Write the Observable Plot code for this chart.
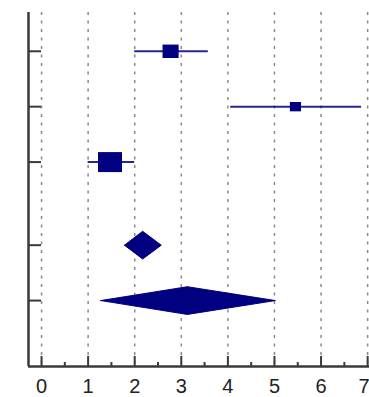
<!DOCTYPE html>
<html>
<head>
<meta charset="utf-8">
<script src="https://cdn.jsdelivr.net/npm/d3@7"></script>
<script src="https://cdn.jsdelivr.net/npm/@observablehq/plot@0.6"></script>
<style>
  html, body { margin: 0; padding: 0; background: #fff; }
  #chart svg { display: block; }
</style>
</head>
<body>
<div id="chart"></div>
<script>
// Study rows (y positions on the forest plot), estimates and confidence limits
const studyRows = [1, 2, 3];
const studyEst  = [2.77, 5.45, 1.47];
const studyLo   = [2.0, 4.06, 1.0];
const studyHi   = [3.58, 6.87, 2.0];
const studyWeight = [27, 13, 60];

// Pooled (diamond) rows
const poolRows = [4.5, 5.5];
const poolEst  = [2.17, 3.13];
const poolLo   = [1.78, 1.27];
const poolHi   = [2.57, 5.02];

// Axis ticks
const xTicks = [0, 1, 2, 3, 4, 5, 6, 7];
const xMinorTicks = [0.5, 1.5, 2.5, 3.5, 4.5, 5.5, 6.5];
const yTicks = [1, 2, 3, 4.5, 5.5];

const navy = "#000080";
const axisColor = "#3a3a3a";
const xDomain = [-0.28, 7.04];
const yDomain = [0.3, 6.69];

const studies = studyRows.map((y, i) => ({y, est: studyEst[i], lo: studyLo[i], hi: studyHi[i], w: studyWeight[i]}));

const half = 0.25;
const diamondPts = [];
poolRows.forEach((y, i) => {
  diamondPts.push({id: i, x: poolLo[i], y});
  diamondPts.push({id: i, x: poolEst[i], y: y - half});
  diamondPts.push({id: i, x: poolHi[i], y});
  diamondPts.push({id: i, x: poolEst[i], y: y + half});
  diamondPts.push({id: i, x: poolLo[i], y});
});

// Rectangular box symbol (slightly wider than tall)
const boxSymbol = {
  draw(context, size) {
    const r = Math.sqrt(size / Math.PI);
    const w = r * 1.2;
    context.moveTo(-w, -r);
    context.lineTo(w, -r);
    context.lineTo(w, r);
    context.lineTo(-w, r);
    context.closePath();
  }
};

const lastTick = xTicks[xTicks.length - 1];
const innerTicks = xTicks.slice(0, -1);

const chart = Plot.plot({
  width: 369,
  height: 397,
  marginLeft: 28,
  marginRight: 0,
  marginTop: 12,
  marginBottom: 31,
  style: {fontFamily: "'Liberation Sans', Arial, sans-serif", background: "#fff"},
  x: {domain: xDomain, label: null},
  y: {domain: yDomain, reverse: true, label: null},
  r: {type: "sqrt", domain: [0, 60], range: [0, 10]},
  marks: [
    Plot.gridX(xTicks, {stroke: "#8a8a8a", strokeOpacity: 1, strokeWidth: 1.5, strokeDasharray: "3,5.5"}),
    Plot.ruleY(studies, {y: "y", x1: "lo", x2: "hi", stroke: navy, strokeWidth: 2, strokeOpacity: 0.85}),
    Plot.dot(studies, {x: "est", y: "y", r: "w", symbol: boxSymbol, fill: navy, stroke: null}),
    Plot.line(diamondPts, {x: "x", y: "y", z: "id", fill: navy, stroke: navy, strokeWidth: 1, curve: "linear"}),
    // axis lines
    Plot.ruleX([xDomain[0]], {stroke: axisColor, strokeWidth: 2.5}),
    Plot.ruleY([yDomain[1]], {stroke: axisColor, strokeWidth: 2.5}),
    // inward ticks
    Plot.axisX(xTicks, {tickSize: 10, dy: -10, tickFormat: () => "", stroke: axisColor, strokeWidth: 2, label: null}),
    Plot.axisX(xMinorTicks, {tickSize: 4, dy: -4, tickFormat: () => "", stroke: axisColor, strokeWidth: 2, label: null}),
    Plot.axisY(yTicks, {tickSize: 13, dx: 13, tickFormat: () => "", stroke: axisColor, strokeWidth: 2, label: null}),
    // tick labels
    Plot.axisX(innerTicks, {tickSize: 0, tickPadding: 12, fontSize: 20, fill: "#222", label: null}),
    Plot.axisX([lastTick], {tickSize: 0, tickPadding: 12, fontSize: 20, fill: "#222", label: null, textAnchor: "end", dx: 2})
  ]
});
document.getElementById("chart").appendChild(chart);
</script>
</body>
</html>
